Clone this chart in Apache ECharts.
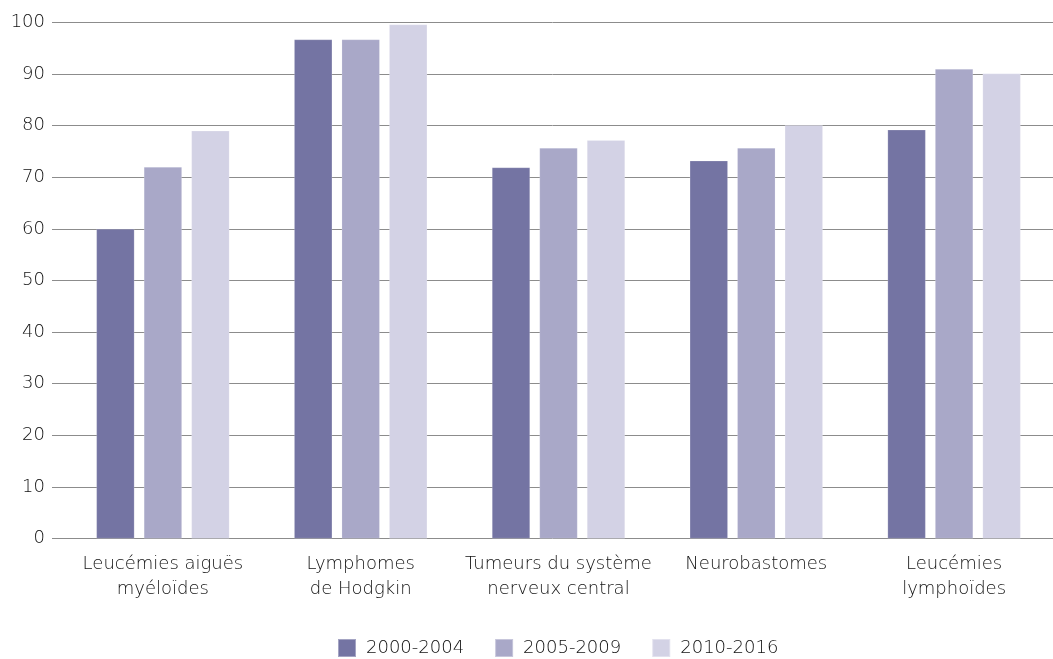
<!DOCTYPE html>
<html>
<head>
<meta charset="utf-8">
<script src="https://cdn.jsdelivr.net/npm/echarts@6/dist/echarts.min.js"></script>
<style>html,body{margin:0;padding:0;background:#fff}#c{width:1053px;height:659px}</style>
</head>
<body>
<div id="c"></div>
<script>
const categories = ["Leucémies aiguës\nmyéloïdes", "Lymphomes\nde Hodgkin", "Tumeurs du système\nnerveux central", "Neurobastomes", "Leucémies\nlymphoïdes"];
const seriesNames = ["2000-2004", "2005-2009", "2010-2016"];
const s2000 = [60, 96.7, 71.9, 73.2, 79.2];
const s2005 = [72, 96.7, 75.7, 75.7, 91.0];
const s2010 = [79, 99.6, 77.2, 80.1, 90.1];
const colors = ["#7474a3", "#a9a8c8", "#d3d2e5"];

const font = "'DejaVu Sans', sans-serif";
const fw = 200;
const fs = 18;
const tc = '#111111';
const chart = echarts.init(document.getElementById('c'), null, {renderer: 'canvas'});
chart.setOption({
  animation: false,
  color: colors,
  legend: {
    left: 337, top: 638, padding: 0,
    itemWidth: 18, itemHeight: 18, itemGap: 30,
    icon: 'rect',
    textStyle: {fontFamily: font, fontWeight: fw, fontSize: fs, color: tc, padding: [0,0,0,5]},
    data: seriesNames
  },
  grid: [
    {left: 52, right: 0, top: 22.5, bottom: 120.5},
    {left: 64, right: -9, top: 22.5, bottom: 120.5}
  ],
  xAxis: [
    {gridIndex: 0, type: 'value', show: false, min: 0, max: 1},
    {gridIndex: 1, type: 'category', data: categories,
     axisLine: {show: false}, axisTick: {show: false},
     axisLabel: {fontFamily: font, fontWeight: fw, fontSize: fs, color: tc, margin: 13, lineHeight: 25, interval: 0}}
  ],
  yAxis: [
    {gridIndex: 0, type: 'value', min: 0, max: 100, interval: 10,
     axisLine: {show: false}, axisTick: {show: false},
     axisLabel: {fontFamily: font, fontWeight: fw, fontSize: fs, color: tc, margin: 7},
     splitLine: {lineStyle: {color: '#8c8c8c', width: 1}}},
    {gridIndex: 1, type: 'value', min: 0, max: 100, interval: 10, show: false, splitLine: {show: false}}
  ],
  series: [s2000, s2005, s2010].map((d, i) => ({
    name: seriesNames[i], type: 'bar', xAxisIndex: 1, yAxisIndex: 1,
    data: d, barWidth: 38, barGap: '25%',
    itemStyle: {color: colors[i], borderColor: 'rgba(255,255,255,0.35)', borderWidth: 0.5}
  }))
});
</script>
</body>
</html>
